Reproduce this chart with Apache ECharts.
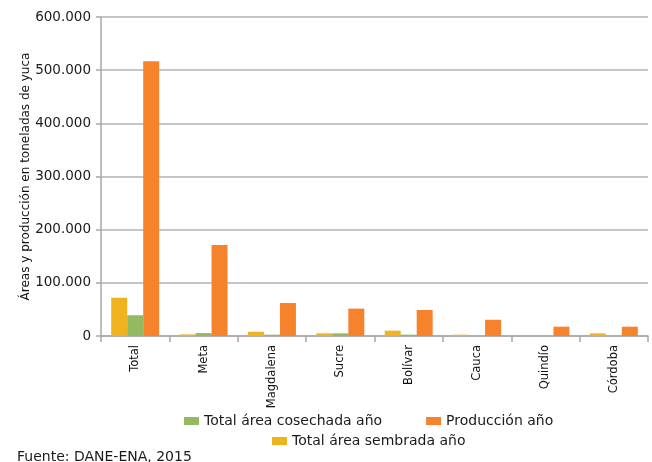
<!DOCTYPE html>
<html>
<head>
<meta charset="utf-8">
<script src="https://cdn.jsdelivr.net/npm/echarts@6/dist/echarts.min.js"></script>
<style>
  html, body { margin: 0; padding: 0; background: #fff; }
  #chart { width: 652px; height: 462px; }
</style>
</head>
<body>
<div id="chart"></div>
<script>
const categories = ['Total', 'Meta', 'Magdalena', 'Sucre', 'Bolívar', 'Cauca', 'Quindío', 'Córdoba']
const sembrada = [72000, 3000, 8000, 5000, 10000, 2500, 0, 5000]
const cosechada = [39000, 5500, 2500, 5000, 2500, 0, 0, 0]
const produccion = [517000, 171000, 62000, 51500, 49000, 30500, 17500, 17500]
const yTicks = [0, 100000, 200000, 300000, 400000, 500000, 600000]

// the source uses a wide sans face, DejaVu is the closest installed
const wide = '"DejaVu Sans", sans-serif'
const chart = echarts.init(document.getElementById('chart'))

function fmt(v) {
  return String(v).replace(/\B(?=(\d{3})+(?!\d))/g, '.')
}

chart.setOption({
  animation: false,
  textStyle: { fontFamily: wide },
  grid: { left: 101, top: 17, width: 547, bottom: 126 },
  legend: [
    {
      data: ['Total área cosechada año', 'Producción año'],
      left: 184, top: 414, padding: 0,
      itemWidth: 15, itemHeight: 8, itemGap: 44,
      icon: 'rect',
      textStyle: { fontSize: 14, color: '#1a1a1a', fontFamily: wide },
    },
    {
      data: ['Total área sembrada año'],
      left: 272, top: 434, padding: 0,
      itemWidth: 15, itemHeight: 8,
      icon: 'rect',
      textStyle: { fontSize: 14, color: '#1a1a1a', fontFamily: wide },
    },
  ],
  graphic: [{
    type: 'text', left: 17, top: 450,
    style: { text: 'Fuente: DANE-ENA, 2015', fontSize: 14, fill: '#1a1a1a', fontFamily: wide },
  }],
  xAxis: {
    type: 'category',
    data: categories,
    axisLine: { lineStyle: { color: '#a8a8a8', width: 1.5 } },
    axisTick: { show: true, length: 6, lineStyle: { color: '#a8a8a8', width: 1.5 } },
    axisLabel: { rotate: 90, fontSize: 11.5, color: '#111', margin: 9, fontFamily: wide },
  },
  yAxis: {
    type: 'value',
    min: 0, max: yTicks[yTicks.length - 1], interval: 100000,
    name: 'Áreas y producción en toneladas de yuca',
    nameLocation: 'middle',
    nameGap: 69,
    nameMoveOverlap: false,
    nameTextStyle: { fontSize: 12, color: '#111', fontFamily: wide },
    axisLine: { show: true, lineStyle: { color: '#a8a8a8', width: 1.5 } },
    axisTick: { show: true, length: 5, lineStyle: { color: '#a8a8a8', width: 1.5 } },
    axisLabel: { fontSize: 13.5, color: '#1a1a1a', margin: 10, formatter: fmt, fontFamily: wide },
    splitLine: { lineStyle: { color: '#b3b3b3', width: 1.5 } },
  },
  series: [
    { name: 'Total área sembrada año', type: 'bar', data: sembrada, barWidth: 16, barGap: '0%', itemStyle: { color: '#EFB320' } },
    { name: 'Total área cosechada año', type: 'bar', data: cosechada, barWidth: 16, barGap: '0%', itemStyle: { color: '#93BA5F' } },
    { name: 'Producción año', type: 'bar', data: produccion, barWidth: 16, barGap: '0%', itemStyle: { color: '#F6832C' } },
  ],
})
</script>
</body>
</html>
